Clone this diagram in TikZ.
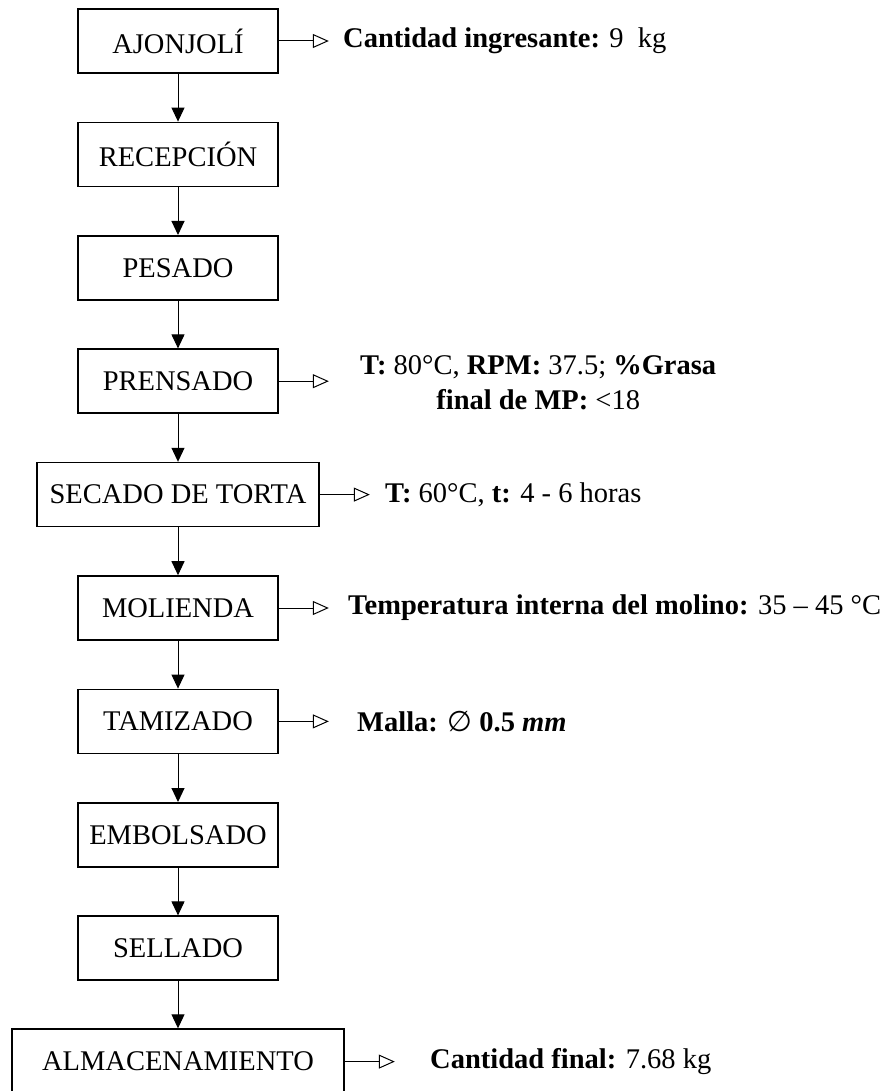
\documentclass[tikz,border=0pt]{standalone}
\usepackage{fontspec}
\setmainfont{Liberation Serif}
\newfontfamily\symfont{DejaVu Sans}
\usetikzlibrary{arrows.meta}
\begin{document}
\begin{tikzpicture}[x=1pt,y=-1pt,
  stepbox/.style={draw, line width=1.6pt, minimum height=64pt, inner sep=0pt, font=\fontsize{28.5}{33}\selectfont},
  flow/.style={line width=1pt, -{Triangle[length=14pt,width=13pt]}},
  side/.style={line width=1pt, -{Triangle[open,length=16pt,width=14pt,line width=1pt]}},
  lbl/.style={anchor=west, inner sep=0pt, font=\fontsize{28.5}{35}\selectfont}]
\useasboundingbox (0,0) rectangle (879,1091);
\node[stepbox, minimum width=200pt] (n0) at (178,41) {AJONJOLÍ};
\node[stepbox, minimum width=200pt] (n1) at (178,154.4) {RECEPCIÓN};
\node[stepbox, minimum width=200pt] (n2) at (178,267.8) {PESADO};
\node[stepbox, minimum width=200pt] (n3) at (178,381.2) {PRENSADO};
\node[stepbox, minimum width=282pt] (n4) at (178,494.6) {SECADO DE TORTA};
\node[stepbox, minimum width=200pt] (n5) at (178,608) {MOLIENDA};
\node[stepbox, minimum width=200pt] (n6) at (178,721.4) {TAMIZADO};
\node[stepbox, minimum width=200pt] (n7) at (178,834.8) {EMBOLSADO};
\node[stepbox, minimum width=200pt] (n8) at (178,948.2) {SELLADO};
\node[stepbox, minimum width=332pt, minimum height=65pt] (n9) at (178,1061.6) {ALMACENAMIENTO};
\foreach \a/\b in {n0/n1,n1/n2,n2/n3,n3/n4,n4/n5,n5/n6,n6/n7,n7/n8,n8/n9}
  \draw[flow] (\a.south) -- (\b.north);
\draw[side] (n0.east) -- ++(50,0) coordinate (a0);
\draw[side] (n3.east) -- ++(50,0) coordinate (a3);
\draw[side] (n4.east) -- ++(50,0) coordinate (a4);
\draw[side] (n5.east) -- ++(50,0) coordinate (a5);
\draw[side] (n6.east) -- ++(50,0) coordinate (a6);
\draw[side] (n9.east) -- ++(50,0) coordinate (a9);
\node[lbl] (l0) at (343,41) {\textbf{Cantidad ingresante:} 9~~kg};
\node[lbl, align=center] (l3) at (360,382.5) {\textbf{T:} 80°C, \textbf{RPM:} 37.5; \textbf{\%Grasa}\\ \textbf{final de MP:} <18};
\node[lbl] (l4) at (385,494.6) {\textbf{T:} 60°C, \textbf{t:} 4 - 6 horas};
\node[lbl] (l5) at (348,608) {\textbf{Temperatura interna del molino:} 35 – 45 °C};
\node[lbl] (l6) at (357,721.4) {\textbf{Malla:} {\symfont ∅} \textbf{0.5 \textit{mm}}};
\node[lbl] (l9) at (430,1061.6) {\textbf{Cantidad final:} 7.68 kg};
\end{tikzpicture}
\end{document}
